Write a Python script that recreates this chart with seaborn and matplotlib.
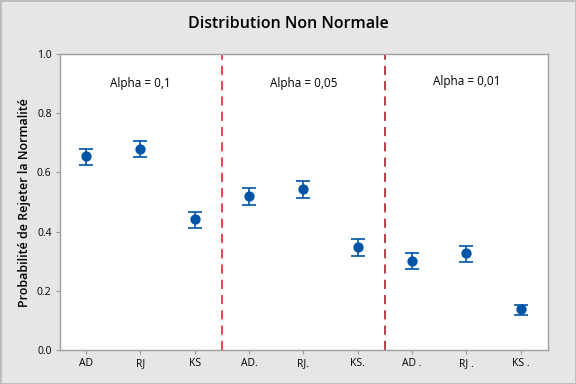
import matplotlib
matplotlib.use("Agg")
import matplotlib.pyplot as plt
import pandas as pd
import seaborn as sns

# valeurs
tests = ["AD", "RJ", "KS", "AD.", "RJ.", "KS.", "AD .", "RJ .", "KS ."]
prob = [0.655, 0.678, 0.442, 0.519, 0.544, 0.347, 0.301, 0.328, 0.139]
lower = [0.627, 0.651, 0.411, 0.489, 0.513, 0.317, 0.273, 0.296, 0.117]
upper = [0.681, 0.705, 0.466, 0.546, 0.570, 0.374, 0.327, 0.350, 0.151]
alphas = ["Alpha = 0,1", "Alpha = 0,05", "Alpha = 0,01"]

df = pd.DataFrame({"test": tests, "prob": prob, "lower": lower, "upper": upper})
df["x"] = range(len(df))

sns.set_style("white")
plt.rcParams["font.family"] = ["Open Sans", "DejaVu Sans"]
plt.rcParams["text.color"] = "black"

blue = "#0054a6"
fig = plt.figure(figsize=(5.76, 3.84), dpi=100, facecolor="#e6e6e6")
ax = fig.add_axes([0.104, 0.0885, 0.847, 0.7705])

ax.errorbar(df["x"], df["prob"],
            yerr=[df["prob"] - df["lower"], df["upper"] - df["prob"]],
            fmt="none", ecolor=blue, elinewidth=1.2, capsize=5, capthick=1.2)
sns.scatterplot(data=df, x="x", y="prob", color=blue, s=55, edgecolor=blue,
                linewidth=0, ax=ax, zorder=3)

ax.axvline(2.5, color="#e0141e", linestyle=(0, (6, 4)), linewidth=1.1)
ax.axvline(5.5, color="#a01018", linestyle=(0, (6, 4)), linewidth=1.1)

for i, txt in enumerate(alphas):
    ax.text(1 + 3 * i, 0.90 if i < 2 else 0.906, txt, ha="center", va="center",
            fontsize=8.5, color="black")

ax.set_xlim(-0.48, 8.5)
ax.set_ylim(0, 1)
ax.set_xticks(df["x"])
ax.set_xticklabels(tests, fontsize=7.5, color="black")
ax.set_yticks([0.0, 0.2, 0.4, 0.6, 0.8, 1.0])
ax.set_yticklabels(["0.0", "0.2", "0.4", "0.6", "0.8", "1.0"], fontsize=7.5, color="black")
ax.tick_params(axis="both", direction="out", length=3, width=0.8, color="#999999",
               bottom=True, left=True, pad=3)
for sp in ax.spines.values():
    sp.set_color("#a0a0a0")
    sp.set_linewidth(1)

ax.set_xlabel("")
ax.set_ylabel("Probabilité de Rejeter la Normalité", fontsize=9, fontweight="semibold",
              color="black")
fig.text(0.5, 0.9375, "Distribution Non Normale", ha="center", va="center",
         fontsize=11.5, fontweight="semibold", color="black")

fig.patches.append(plt.Rectangle((0, 0), 1, 1, transform=fig.transFigure,
                                 fill=False, edgecolor="#bcbcbc", linewidth=2))
fig.savefig("out.png", dpi=100, facecolor=fig.get_facecolor())
